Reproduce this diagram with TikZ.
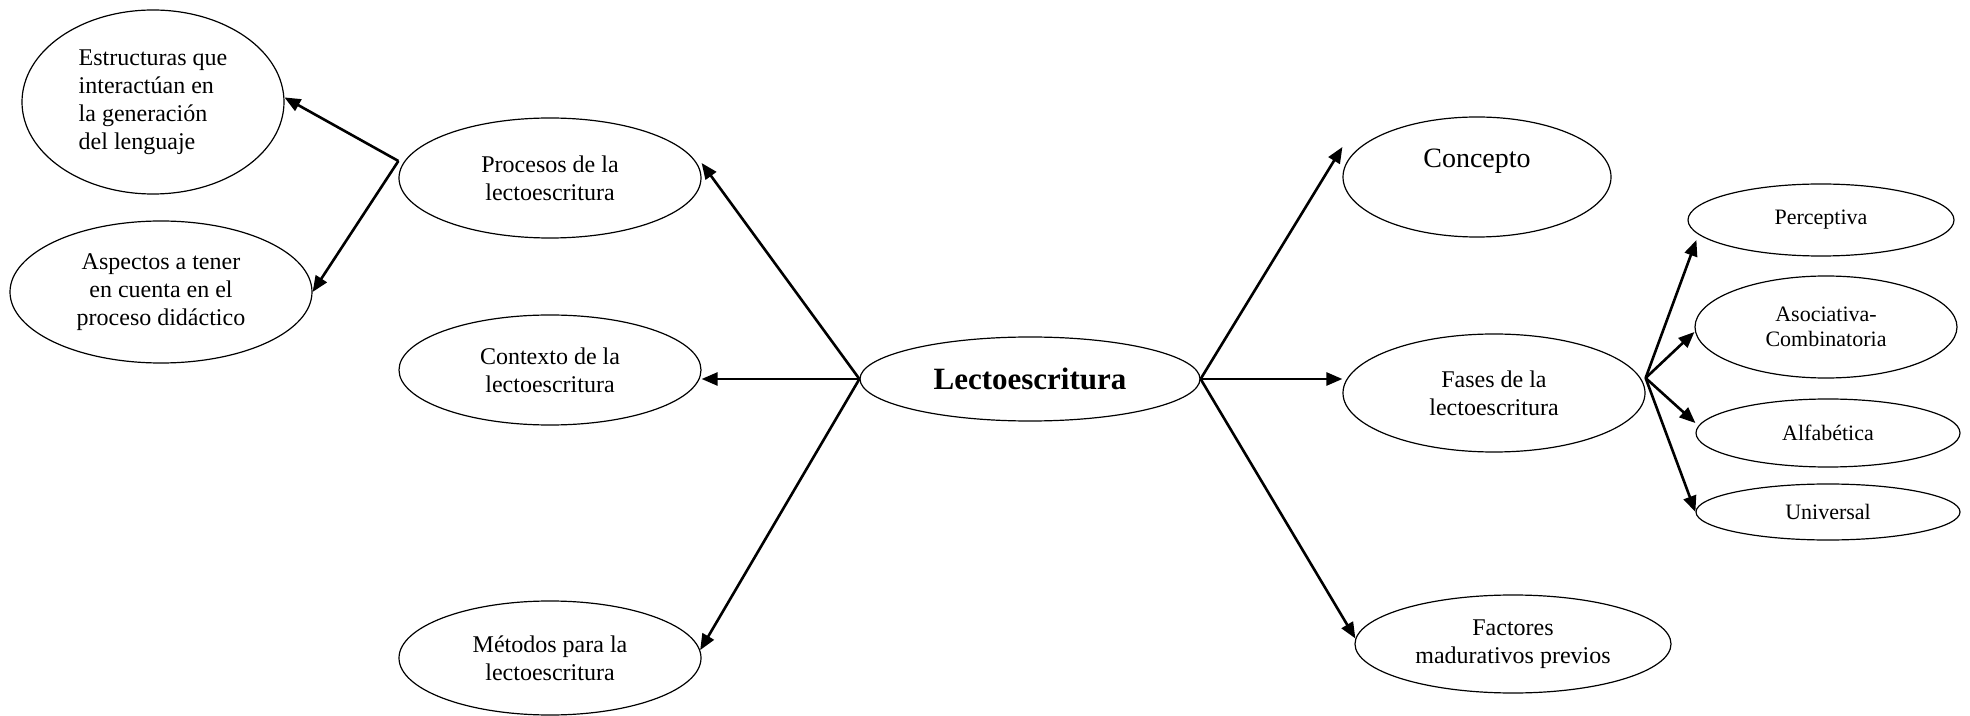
\documentclass[tikz,border=0pt]{standalone}
\usepackage{fontspec}
\setmainfont{Liberation Serif}
\usetikzlibrary{shapes.geometric,arrows.meta}
\begin{document}
\begin{tikzpicture}[x=0.5pt,y=-0.5pt,
	bubble/.style={draw,ellipse,line width=0.6pt,inner sep=0pt,align=center,font=\fontsize{12}{14}\selectfont},
	small/.style={bubble,font=\fontsize{11}{12.5}\selectfont},
	arr/.style={line width=1.3pt,-{Triangle[length=8pt,width=6.5pt]}}]
	\useasboundingbox (0,0) rectangle (1970,716);
	% centro
	\node [bubble,minimum width=170pt,minimum height=42pt,font=\fontsize{15.5}{18}\selectfont\bfseries] (lec) at (1030,379) {Lectoescritura};
	% lado izquierdo
	\node [bubble,minimum width=151pt,minimum height=60pt] (pro) at (550,178) {Procesos de la\\lectoescritura};
	\node [bubble,minimum width=151pt,minimum height=55pt] (con) at (550,370) {Contexto de la\\lectoescritura};
	\node [bubble,minimum width=151pt,minimum height=57pt] (met) at (550,658) {Métodos para la\\lectoescritura};
	\node [bubble,minimum width=131pt,minimum height=92pt,align=left] (est) at (153,102) {Estructuras que\\interactúan en\\la generación\\del lenguaje};
	\node [bubble,minimum width=151pt,minimum height=71pt] (asp) at (161,292) {Aspectos a tener\\en cuenta en el\\proceso didáctico};
	% lado derecho
	\node [bubble,minimum width=134pt,minimum height=60pt] (cpt) at (1477,177) {};
	\node [font=\fontsize{14}{16}\selectfont] (cpttxt) at (1477,161) {Concepto};
	\node [bubble,minimum width=151pt,minimum height=59pt] (fas) at (1494,393) {Fases de la\\lectoescritura};
	\node [bubble,minimum width=158pt,minimum height=49pt] (fac) at (1513,644) {Factores\\madurativos previos};
	\node [small,minimum width=133pt,minimum height=36pt] (per) at (1821,220) {Perceptiva};
	\node [small,minimum width=131pt,minimum height=51pt] (aso) at (1826,327) {Asociativa-\\Combinatoria};
	\node [small,minimum width=132pt,minimum height=34pt] (alf) at (1828,433) {Alfabética};
	\node [small,minimum width=132pt,minimum height=28pt] (uni) at (1828,512) {Universal};
	% flechas
	\draw [arr] (lec.west) -- ([yshift=7.5pt]pro.east);
	\draw [arr] (lec.west) -- (con.east |- lec.west);
	\draw [arr] (lec.west) -- (met.3);
	\draw [arr] ([yshift=8.5pt]pro.west) -- (est.2);
	\draw [arr] ([yshift=8.5pt]pro.west) -- (asp.east);
	\draw [arr] (lec.east) -- ([yshift=15pt]cpt.west);
	\draw [arr] (lec.east) -- (fas.west |- lec.east);
	\draw [arr] (lec.east) -- (fac.178);
	\draw [arr] ([yshift=7.5pt]fas.east) -- ([xshift=4.5pt,yshift=-10pt]per.west);
	\draw [arr] ([yshift=7.5pt]fas.east) -- ([yshift=-2.5pt]aso.west);
	\draw [arr] ([yshift=7.5pt]fas.east) -- ([yshift=5pt]alf.west);
	\draw [arr] ([yshift=7.5pt]fas.east) -- (uni.west);
\end{tikzpicture}
\end{document}
